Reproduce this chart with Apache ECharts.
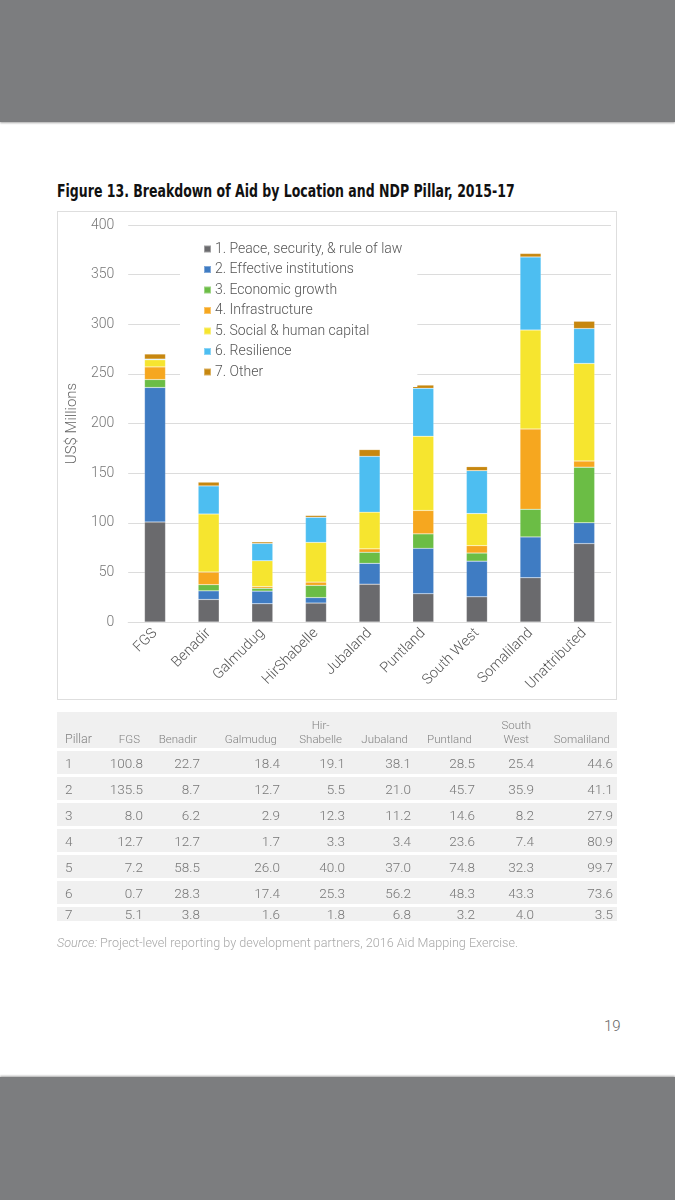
<!DOCTYPE html>
<html>
<head>
<meta charset="utf-8">
<script src="https://cdn.jsdelivr.net/npm/echarts@6/dist/echarts.min.js"></script>
<style>
  html, body { margin: 0; padding: 0; }
  body { width: 675px; height: 1200px; position: relative; background: #fff; overflow: hidden; font-family: Roboto, "Liberation Sans", sans-serif; }
  #topband { position: absolute; left: 0; top: 0; width: 675px; height: 122px; background: #7c7d7f; box-shadow: 0 1px 2px rgba(0,0,0,0.35); }
  #botband { position: absolute; left: 0; top: 1077px; width: 675px; height: 123px; background: #7c7d7f; box-shadow: 0 -1px 2px rgba(0,0,0,0.35); }
  #title { position: absolute; left: 57px; top: 181px; font-family: "Liberation Sans Narrow", "DejaVu Sans Condensed", sans-serif; font-weight: bold; font-size: 17.5px; color: #111; white-space: nowrap; transform: scaleX(0.795); transform-origin: 0 0; }
  #chart { position: absolute; left: 57px; top: 211px; width: 560px; height: 489px; }
  #frame { position: absolute; left: 57px; top: 211px; width: 560px; height: 489px; box-sizing: border-box; border: 1.5px solid #dedede; pointer-events: none; }
  #tbl { position: absolute; left: 57px; top: 709px; width: 560px; border-collapse: separate; border-spacing: 0 3px; table-layout: fixed; font-weight: 300; }
  #tbl td, #tbl th { background: #f0f0f0; padding: 0 4px 0 0; text-align: right; color: #777; font-size: 13.5px; white-space: nowrap; }
  #tbl th { height: 34px; vertical-align: bottom; font-size: 11.5px; font-weight: 300; color: #828282; padding-right: 7px; padding-bottom: 2px; line-height: 14px; }
  #tbl th .ml { display: inline-block; text-align: center; }
  #tbl td { height: 23px; }
  #tbl tr.last td { height: 14px; line-height: 14px; }
  #tbl td.pl, #tbl th.pl { text-align: left; padding-left: 8px; }
  #tbl th.pl { font-size: 12.5px; }
  #source { position: absolute; left: 57px; top: 935px; font-size: 12.6px; color: #a8a8a8; font-weight: 300; white-space: nowrap; }
  #pageno { position: absolute; left: 604px; top: 1017px; font-size: 15px; color: #666; font-weight: 300; }
</style>
</head>
<body>
<div id="topband"></div>
<div id="title">Figure 13. Breakdown of Aid by Location and NDP Pillar, 2015-17</div>
<div id="chart"></div>
<div id="frame"></div>
<table id="tbl">
  <colgroup>
    <col style="width:43px"><col style="width:47px"><col style="width:57px"><col style="width:80px"><col style="width:65px"><col style="width:66px"><col style="width:64px"><col style="width:59px"><col style="width:79px">
  </colgroup>
  <thead><tr id="thead"></tr></thead>
  <tbody id="tbody"></tbody>
</table>
<div id="source"><i>Source:</i> Project-level reporting by development partners, 2016 Aid Mapping Exercise.</div>
<div id="pageno">19</div>
<div id="botband"></div>
<script>
// ---- Data ----
var categories = ['FGS', 'Benadir', 'Galmudug', 'HirShabelle', 'Jubaland', 'Puntland', 'South West', 'Somaliland', 'Unattributed'];
var pillarNames = ['1. Peace, security, & rule of law', '2. Effective institutions', '3. Economic growth', '4. Infrastructure', '5. Social & human capital', '6. Resilience', '7. Other'];
var pillar1 = [100.8, 22.7, 18.4, 19.1, 38.1, 28.5, 25.4, 44.6, 79.0];
var pillar2 = [135.5, 8.7, 12.7, 5.5, 21.0, 45.7, 35.9, 41.1, 21.0];
var pillar3 = [8.0, 6.2, 2.9, 12.3, 11.2, 14.6, 8.2, 27.9, 56.0];
var pillar4 = [12.7, 12.7, 1.7, 3.3, 3.4, 23.6, 7.4, 80.9, 6.2];
var pillar5 = [7.2, 58.5, 26.0, 40.0, 37.0, 74.8, 32.3, 99.7, 98.3];
var pillar6 = [0.7, 28.3, 17.4, 25.3, 56.2, 48.3, 43.3, 73.6, 35.2];
var pillar7 = [5.1, 3.8, 1.6, 1.8, 6.8, 3.2, 4.0, 3.5, 7.3];
var tableHeaders = ['FGS', 'Benadir', 'Galmudug', 'Hir-|Shabelle', 'Jubaland', 'Puntland', 'South|West', 'Somaliland'];
var yTicks = { min: 0, max: 400, interval: 50 };

var pillars = [pillar1, pillar2, pillar3, pillar4, pillar5, pillar6, pillar7];
var colors = ['#6a6a6d', '#3f7cc3', '#6bbd45', '#f6a71f', '#f6e52f', '#4dbef1', '#c7870f'];

// ---- Table ----
var thr = document.getElementById('thead');
var h = '<th class="pl">Pillar</th>';
tableHeaders.forEach(function (t) {
  var parts = t.split('|');
  h += '<th>' + (parts.length > 1 ? '<span class="ml">' + parts.join('<br>') + '</span>' : t) + '</th>';
});
thr.innerHTML = h;
var tb = document.getElementById('tbody');
var rows = '';
pillars.forEach(function (arr, i) {
  rows += '<tr' + (i === pillars.length - 1 ? ' class="last"' : '') + '><td class="pl">' + (i + 1) + '</td>';
  for (var c = 0; c < tableHeaders.length; c++) rows += '<td>' + arr[c].toFixed(1) + '</td>';
  rows += '</tr>';
});
tb.innerHTML = rows;

// ---- Chart ----
var chart = echarts.init(document.getElementById('chart'), null, { renderer: 'canvas' });
var font = 'Roboto, "Liberation Sans", sans-serif';
chart.setOption({
  animation: false,
  textStyle: { fontFamily: font, fontWeight: 300 },
  grid: { left: 62, right: 6, top: 14, bottom: 78, containLabel: false },
  legend: {
    orient: 'vertical', left: 123, top: 25,
    padding: [6, 15, 8, 23],
    backgroundColor: '#ffffff',
    itemWidth: 7, itemHeight: 7, itemGap: 6.5,
    icon: 'rect',
    textStyle: { fontFamily: font, fontWeight: 300, fontSize: 14, color: '#555', lineHeight: 14, padding: [0, 0, 0, -1] },
    data: pillarNames
  },
  xAxis: {
    type: 'category', data: categories,
    axisLine: { show: true, lineStyle: { color: '#dcdcdc', width: 1 } },
    axisTick: { show: false },
    axisLabel: { rotate: 45, fontSize: 14.5, color: '#555', margin: 9, fontFamily: font, fontWeight: 300, interval: 0 }
  },
  yAxis: {
    type: 'value', min: yTicks.min, max: yTicks.max, interval: yTicks.interval,
    name: 'US$ Millions', nameLocation: 'middle', nameGap: 40,
    nameTextStyle: { fontSize: 15, color: '#666', fontFamily: font, fontWeight: 300 },
    axisLine: { show: false }, axisTick: { show: false },
    axisLabel: { fontSize: 14, color: '#777', margin: 14, fontFamily: font, fontWeight: 300 },
    splitLine: { lineStyle: { color: '#dcdcdc', width: 1 } }
  },
  series: pillars.map(function (arr, i) {
    return {
      name: pillarNames[i], type: 'bar', stack: 'total', data: arr,
      barWidth: 21,
      itemStyle: { color: colors[i], borderColor: 'rgba(255,255,255,0.35)', borderWidth: 0.5 }
    };
  })
});
</script>
</body>
</html>
